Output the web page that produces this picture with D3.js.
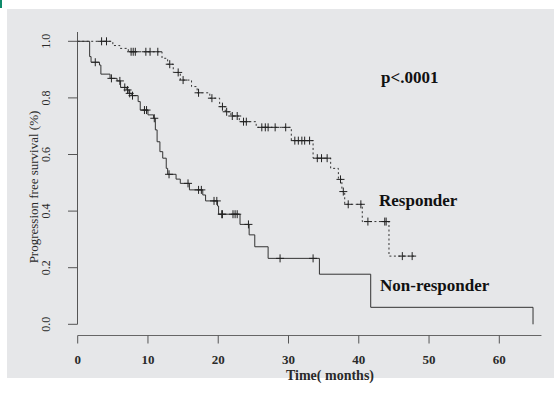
<!DOCTYPE html>
<html>
<head>
<meta charset="utf-8">
<script src="https://cdn.jsdelivr.net/npm/d3@7"></script>
<style>
  html, body { margin: 0; padding: 0; background: #ffffff; }
  svg { display: block; }
</style>
</head>
<body>
<svg id="chart" width="554" height="394"></svg>
<script>
// ---------- data ----------
const xTicks = [0, 10, 20, 30, 40, 50, 60];
const yTicks = [0.0, 0.2, 0.4, 0.6, 0.8, 1.0];
const yTickLabels = ["0.0", "0.2", "0.4", "0.6", "0.8", "1.0"];

// Responder: [time, survival after drop]
const responderSteps = [
  [5.0, 0.985], [6.0, 0.975], [7.2, 0.963],
  [12.0, 0.94], [12.8, 0.919], [13.6, 0.89], [14.6, 0.863],
  [16.2, 0.84], [17.0, 0.818], [18.8, 0.799], [20.2, 0.769],
  [21.0, 0.751], [21.8, 0.736], [23.0, 0.716], [25.4, 0.696],
  [30.4, 0.649], [33.5, 0.587], [36.0, 0.551], [37.1, 0.512],
  [37.6, 0.469], [38.0, 0.424], [40.5, 0.363], [44.3, 0.241]
];
const responderEnd = 48.2;
const responderCensor = [3.4, 4.1, 7.6, 7.9, 8.2, 9.7, 10.3, 11.4, 13.1, 14.3, 15.0,
  17.2, 19.1, 20.6, 21.2, 22.0, 22.7, 23.6, 24.0, 26.2, 26.7, 27.1, 28.1, 29.6,
  30.9, 31.4, 31.9, 32.3, 33.0, 34.1, 34.7, 35.5, 37.4, 37.8, 38.5, 40.3,
  41.3, 43.7, 43.9, 46.2, 47.6];

// Non-responder
const nonResponderSteps = [
  [1.7, 0.946], [1.9, 0.926], [3.1, 0.916], [3.3, 0.884], [4.6, 0.869],
  [5.6, 0.860], [6.1, 0.837], [7.0, 0.828], [7.3, 0.816], [7.7, 0.808],
  [8.6, 0.787], [8.9, 0.757], [10.0, 0.74], [10.8, 0.728], [11.05, 0.687],
  [11.3, 0.645], [11.7, 0.61], [12.1, 0.587], [12.6, 0.551], [12.8, 0.53],
  [14.0, 0.513], [14.6, 0.498], [15.9, 0.475], [17.8, 0.457], [18.2, 0.436],
  [19.9, 0.418], [20.05, 0.389], [23.1, 0.353], [24.4, 0.316], [25.2, 0.274],
  [27.1, 0.233], [34.4, 0.177], [41.7, 0.06], [64.8, 0.0]
];
const nonResponderEnd = 64.8;
const nonResponderCensor = [2.5, 4.8, 6.0, 6.7, 7.1, 7.4, 7.8, 9.5, 9.8, 10.9,
  13.0, 15.7, 17.2, 17.6, 19.4, 19.8, 20.5, 20.6, 22.1, 22.4, 22.7, 24.3,
  28.8, 33.5];

const labels = { p: "p<.0001", responder: "Responder", nonResponder: "Non-responder",
  xTitle: "Time( months)", yTitle: "Progression free survival (%)" };

// ---------- drawing ----------
const svg = d3.select("#chart");
const serif = "'Liberation Serif', 'DejaVu Serif', serif";
const ink = "#2a2a2a";

svg.append("rect").attr("x", 0).attr("y", 0).attr("width", 554).attr("height", 394).attr("fill", "#ffffff");
svg.append("rect").attr("x", 7).attr("y", 9).attr("width", 547).attr("height", 369).attr("fill", "#e6e7e9");
svg.append("rect").attr("x", 0).attr("y", 0).attr("width", 2).attr("height", 8).attr("fill", "#0e8a6a");

const x = d3.scaleLinear().domain([0, 60]).range([77.7, 499.3]);
const y = d3.scaleLinear().domain([0, 1]).range([324.3, 41.3]);

// y axis
svg.append("line").attr("x1", 77.5).attr("x2", 77.5).attr("y1", 32).attr("y2", y(0))
  .attr("stroke", "#555").attr("stroke-width", 1);
svg.selectAll(".ytick").data(yTicks).enter().append("line")
  .attr("x1", 68).attr("x2", 77.5).attr("y1", d => y(d)).attr("y2", d => y(d))
  .attr("stroke", "#555").attr("stroke-width", 1);
svg.selectAll(".ylab").data(yTicks).enter().append("text")
  .attr("transform", d => `translate(50,${y(d)}) rotate(-90)`)
  .attr("text-anchor", "middle")
  .attr("font-family", serif).attr("font-size", 12).attr("fill", ink)
  .text((d, i) => yTickLabels[i]);
svg.append("text")
  .attr("transform", `translate(38,187) rotate(-90)`)
  .attr("text-anchor", "middle")
  .attr("font-family", serif).attr("font-size", 13).attr("fill", ink)
  .text(labels.yTitle);

// x axis
const xAxisY = 335.5;
svg.append("line").attr("x1", x(0)).attr("x2", x(66)).attr("y1", xAxisY).attr("y2", xAxisY)
  .attr("stroke", "#666").attr("stroke-width", 1);
svg.selectAll(".xtick").data(xTicks).enter().append("line")
  .attr("x1", d => x(d)).attr("x2", d => x(d)).attr("y1", xAxisY).attr("y2", xAxisY + 8)
  .attr("stroke", "#555").attr("stroke-width", 1);
svg.selectAll(".xlab").data(xTicks).enter().append("text")
  .attr("x", d => x(d)).attr("y", 363.5)
  .attr("text-anchor", "middle")
  .attr("font-family", serif).attr("font-size", 13).attr("font-weight", "bold").attr("fill", ink)
  .text(d => d);
svg.append("text").attr("x", 330).attr("y", 380).attr("text-anchor", "middle")
  .attr("font-family", serif).attr("font-size", 14).attr("font-weight", "bold").attr("fill", ink)
  .text(labels.xTitle);

// curves
function stepPoints(steps, end) {
  const pts = [[0, 1]];
  steps.forEach(s => pts.push(s));
  const last = pts[pts.length - 1];
  if (end > last[0]) pts.push([end, last[1]]);
  return pts;
}
function survAt(steps, t) {
  let s = 1;
  steps.forEach(d => { if (d[0] <= t) s = d[1]; });
  return s;
}
const line = d3.line().x(d => x(d[0])).y(d => y(d[1])).curve(d3.curveStepAfter);

svg.append("path").datum(stepPoints(responderSteps, responderEnd))
  .attr("d", line).attr("fill", "none").attr("stroke", "#333")
  .attr("stroke-width", 1).attr("stroke-dasharray", "2,2.5");
svg.append("path").datum(stepPoints(nonResponderSteps, nonResponderEnd))
  .attr("d", line).attr("fill", "none").attr("stroke", "#333").attr("stroke-width", 1);

function drawCensor(times, steps) {
  const g = svg.append("g").attr("stroke", "#222").attr("stroke-width", 1);
  times.forEach(t => {
    const cx = x(t), cy = y(survAt(steps, t));
    g.append("line").attr("x1", cx).attr("x2", cx).attr("y1", cy - 4).attr("y2", cy + 4);
    g.append("line").attr("x1", cx - 4).attr("x2", cx + 4).attr("y1", cy).attr("y2", cy);
  });
}
drawCensor(responderCensor, responderSteps);
drawCensor(nonResponderCensor, nonResponderSteps);

// annotations
svg.append("text").attr("x", 381).attr("y", 83)
  .attr("font-family", serif).attr("font-size", 17).attr("font-weight", "bold").attr("fill", "#111")
  .text(labels.p);
svg.append("text").attr("x", 379).attr("y", 206)
  .attr("font-family", serif).attr("font-size", 17).attr("font-weight", "bold").attr("fill", "#111")
  .text(labels.responder);
svg.append("text").attr("x", 380).attr("y", 291)
  .attr("font-family", serif).attr("font-size", 17).attr("font-weight", "bold").attr("fill", "#111")
  .text(labels.nonResponder);
</script>
</body>
</html>
